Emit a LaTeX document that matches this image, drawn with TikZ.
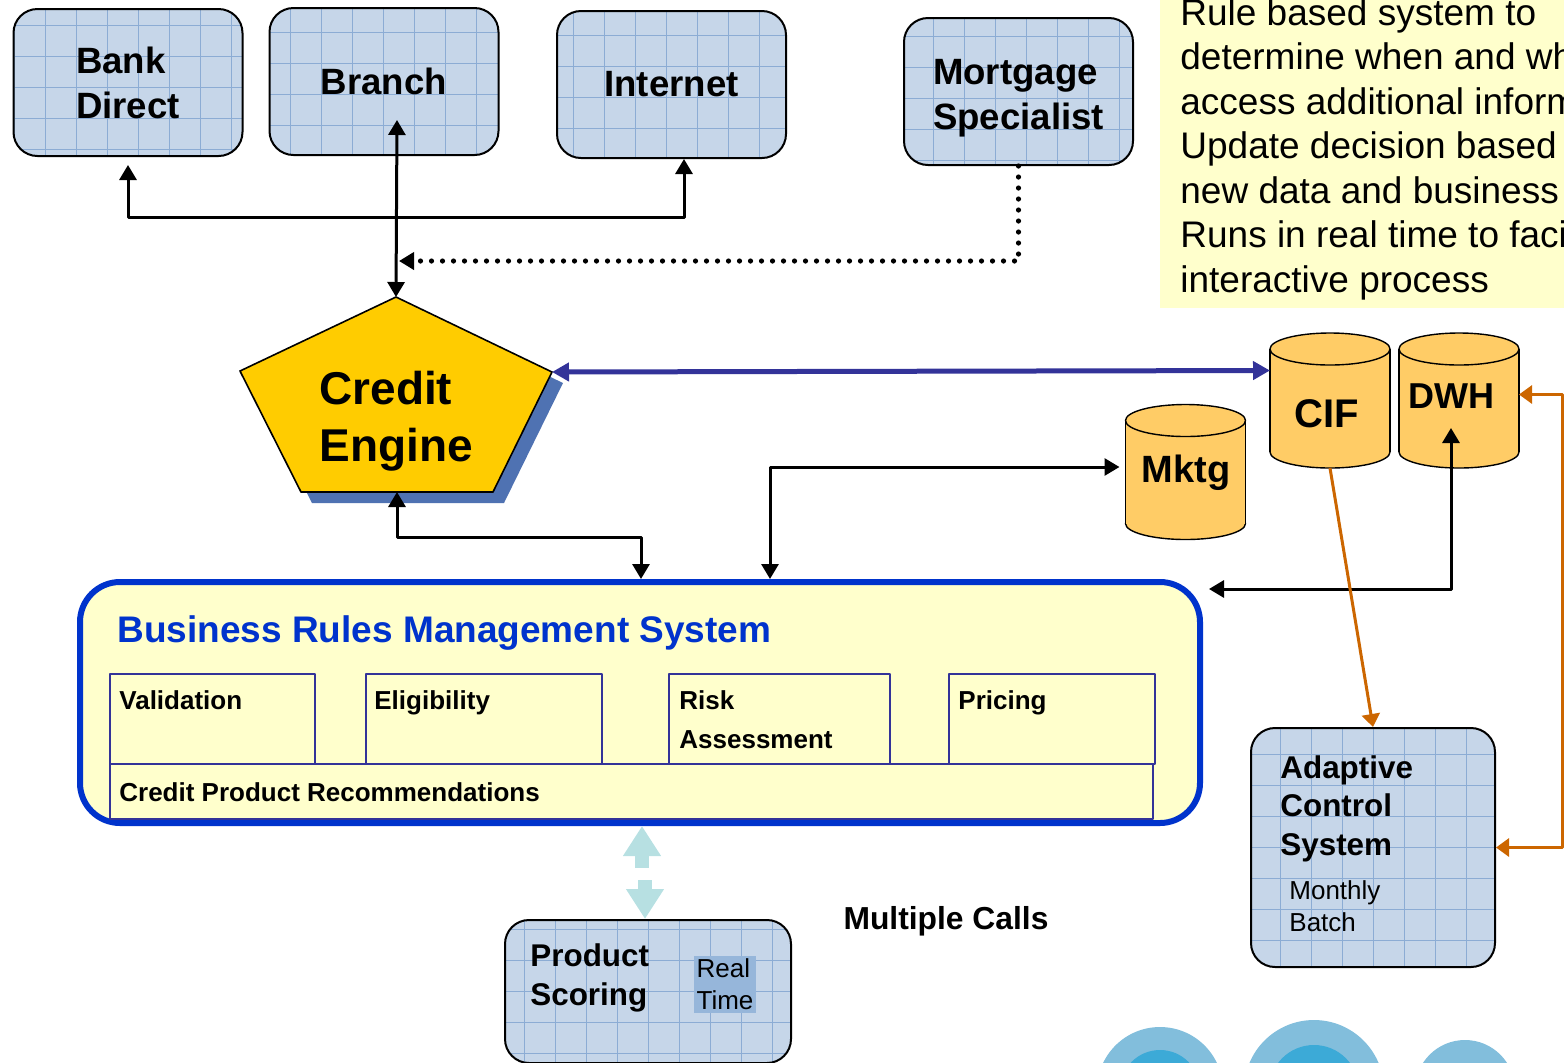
\documentclass[tikz,border=0pt]{standalone}
\usepackage{fontspec}
\setmainfont{Liberation Sans}
\usepackage{xcolor}
\usetikzlibrary{arrows.meta,calc}

\definecolor{gridfill}{RGB}{198,214,233}
\definecolor{gridline}{RGB}{140,172,212}
\definecolor{notefill}{RGB}{255,255,204}
\definecolor{enginegold}{RGB}{255,204,0}
\definecolor{engineshadow}{RGB}{79,114,178}
\definecolor{storefill}{RGB}{255,204,102}
\definecolor{brmsblue}{RGB}{0,51,204}
\definecolor{ruleedge}{RGB}{51,51,153}
\definecolor{feedorange}{RGB}{204,102,0}
\definecolor{scorecyan}{RGB}{183,224,226}
\definecolor{timefill}{RGB}{150,182,218}
\definecolor{bubbleouter}{RGB}{130,190,220}
\definecolor{bubbleinner}{RGB}{60,170,215}

% cylinder drawn round an empty store node
\newcommand{\drawstore}[1]{%
  \filldraw[store edge] ($(#1.south)+(0,-16)$) ellipse[x radius=60,y radius=16];
  \fill[storefill] ($(#1.north west)+(0,16)$) rectangle ($(#1.south east)+(0,-16)$);
  \draw[store edge] ($(#1.north west)+(0,16)$) -- ($(#1.south west)+(0,-16)$)
                    ($(#1.north east)+(0,16)$) -- ($(#1.south east)+(0,-16)$);
  \filldraw[store edge] ($(#1.north)+(0,16)$) ellipse[x radius=60,y radius=16];
}

\begin{document}
\begin{tikzpicture}[
  x=0.5pt,
  y=-0.5pt,
  line join=round,
  >={Triangle[length=7.5pt,width=8.5pt]},
  channel/.style={
    draw=black, line width=1pt, rounded corners=12pt, fill=gridfill,
    inner sep=0pt, align=left,
    minimum width=114.5pt, minimum height=73.5pt,
    font=\bfseries\fontsize{18.3}{22.5}\selectfont,
    path picture={\draw[gridline,line width=0.4pt]
      (path picture bounding box.south west) grid[step=15.5pt]
      (path picture bounding box.north east);}
  },
  engine face/.style={draw=black, line width=0.8pt, fill=enginegold},
  engine label/.style={font=\bfseries\fontsize{23}{28.5}\selectfont, align=left, inner sep=0pt},
  store/.style={minimum width=60pt, minimum height=67.5pt, inner sep=0pt, outer sep=0pt},
  store edge/.style={draw=black, line width=0.7pt, fill=storefill},
  store label/.style={font=\bfseries\fontsize{19}{22}\selectfont, inner sep=0pt},
  brms frame/.style={draw=brmsblue, line width=3pt, rounded corners=20pt, fill=notefill,
    minimum width=560pt, minimum height=120.5pt},
  rule block/.style={draw=ruleedge, line width=1pt, fill=notefill, anchor=north west,
    inner sep=0pt, minimum height=45pt},
  rule label/.style={font=\bfseries\fontsize{13}{19.5}\selectfont, align=left, anchor=base west, inner sep=0pt},
  box title/.style={font=\bfseries\fontsize{15.7}{19.25}\selectfont, align=left, anchor=west, inner sep=0pt},
  box note/.style={font=\fontsize{13}{16}\selectfont, align=left, anchor=west, inner sep=0pt},
  link/.style={draw=black, line width=1.5pt, <->},
  dotted feed/.style={draw=black, line width=2.6pt, line cap=round, dash pattern=on 0pt off 5.5pt, ->},
  store link/.style={draw=ruleedge, line width=2.5pt, >={Triangle[length=8.5pt,width=9pt]}, <->},
  feedback/.style={draw=feedorange, line width=1.5pt, >={Triangle[length=6.5pt,width=9pt]}},
  score link/.style={draw=scorecyan, line width=7pt, -{Triangle[length=15pt,width=18pt]}}
]
  \useasboundingbox (0,0) rectangle (1564,1062);
  \clip (0,0) rectangle (1564,1062);

  % bubbles, bottom right
  \fill[bubbleouter] (1160,1090) circle[radius=63];
  \fill[bubbleinner] (1160,1090) circle[radius=40];
  \fill[bubbleouter] (1314,1090) circle[radius=70];
  \fill[bubbleinner] (1314,1090) circle[radius=45];
  \fill[bubbleouter] (1465,1090) circle[radius=50];

  % note, top right (runs off the page edge as in the slide)
  \node[fill=notefill, anchor=north west, minimum width=203pt, minimum height=155pt, inner sep=0pt]
    (note) at (1160,-2) {};
  \node[font=\fontsize{18.5}{22.25}\selectfont, align=left, anchor=west, inner sep=0pt]
    (note text) at (1180,149) {Rule based system to\\determine when and where to\\access additional information\\Update decision based on\\new data and business rules\\Runs in real time to facilitate\\interactive process};

  % channels
  \node[channel] (bank) at (128,82.5) {Bank\\Direct};
  \node[channel] (branch) at (384,81.5) {Branch};
  \node[channel] (internet) at (671.5,84.5) {Internet};
  \node[channel] (mortgage) at (1018.5,91.5) {\rule{0pt}{19.5pt}Mortgage\\Specialist};

  % credit engine
  \coordinate (engine top) at (396,297);
  \coordinate (engine right) at (552,372);
  \coordinate (engine br) at (493,492);
  \coordinate (engine bl) at (301,492);
  \coordinate (engine left) at (240,371);
  \coordinate (engine base) at (397,492);
  \fill[engineshadow] ([shift={(11,11)}]engine top) -- ([shift={(11,11)}]engine right)
    -- ([shift={(11,11)}]engine br) -- ([shift={(11,11)}]engine bl)
    -- ([shift={(11,11)}]engine left) -- cycle;
  \filldraw[engine face] (engine top) -- (engine right) -- (engine br) -- (engine bl) -- (engine left) -- cycle;
  \node[engine label] (engine) at (396,421) {Credit\\Engine};

  % data stores
  \node[store] (mktg) at (1185.5,472) {};
  \drawstore{mktg}
  \node[store label] (mktg label) at (1186,473) {Mktg};
  \node[store] (cif) at (1330,400.5) {};
  \drawstore{cif}
  \node[store label, font=\bfseries\fontsize{20}{24}\selectfont] (cif label) at (1327,414) {CIF};
  \node[store] (dwh) at (1459,400.5) {};
  \drawstore{dwh}
  \node[store label, font=\bfseries\fontsize{18}{22}\selectfont] (dwh label) at (1451,396) {DWH};

  % business rules management system
  \node[brms frame] (brms) at (640,702.5) {};
  \node[anchor=west, inner sep=0pt, text=brmsblue, font=\bfseries\fontsize{18.5}{22}\selectfont]
    (brms title) at (117,633) {Business Rules Management System};
  \node[rule block, minimum width=521.5pt, minimum height=27.5pt] (cpr) at (109,763) {};
  \node[rule block, minimum width=102.5pt] (validation) at (109,673) {};
  \node[rule block, minimum width=118pt] (eligibility) at (365,673) {};
  \node[rule block, minimum width=110.5pt] (risk) at (668,673) {};
  \node[rule block, minimum width=103pt] (pricing) at (948,673) {};
  \node[rule label] (validation label) at (119,709.5) {Validation};
  \node[rule label] (eligibility label) at (374,709.5) {Eligibility};
  \node[rule label, anchor=west] (risk label) at (679,719.5) {Risk\\Assessment};
  \node[rule label] (pricing label) at (958,709.5) {Pricing};
  \node[rule label] (cpr label) at (119,801.5) {Credit Product Recommendations};

  % adaptive control and scoring
  \node[channel, minimum width=122pt, minimum height=119.5pt] (acs) at (1373,847.5) {};
  \node[box title] (acs title) at (1280,808.5) {Adaptive\\Control\\System};
  \node[box note] (acs mode) at (1289,906) {Monthly\\Batch};
  \node[channel, minimum width=143pt, minimum height=71.5pt] (scoring) at (648,991.5) {};
  \node[box title] (scoring title) at (530,978) {Product\\Scoring};
  \node[box note, fill=timefill, inner sep=1.5pt, anchor=center] (scoring mode) at (725,984.5) {Real\\Time};
  \node[inner sep=0pt, font=\bfseries\fontsize{15.9}{19}\selectfont] (calls) at (946,921) {Multiple Calls};

  % connectors
  \draw[link, shorten <=4pt] (bank.south) -- ++(0,60) -| ([xshift=6.25pt]internet.south);
  \draw[link] ([xshift=6.5pt,yshift=-19.25pt]branch.center) -- (engine top);
  \coordinate (feed) at (399,261);
  \draw[dotted feed] (mortgage.south) |- (feed);
  \draw[store link] (engine right) -- ([yshift=15pt]cif.west);
  \draw[link] (engine base) -- ++(0,45) -| ([xshift=0.5pt]brms.north);
  \draw[link, shorten >=3pt] ([xshift=65pt]brms.north) |- ([yshift=2.5pt]mktg.west);
  \draw[link] ([xshift=-4pt,yshift=-13.75pt]dwh.center) |- ([xshift=3pt,yshift=-5pt]brms.north east);
  \draw[feedback, ->] (cif.south) -- (acs.north);
  \draw[feedback, <->] (acs.east) -- ++(66,0) |- ([yshift=3pt]dwh.east);
  \coordinate (score gap top) at (642,868);
  \coordinate (score gap bottom) at (645,880);
  \draw[score link] (score gap top) -- (brms.south -| score gap top);
  \draw[score link] (score gap bottom) -- (scoring.north -| score gap bottom);
\end{tikzpicture}
\end{document}
